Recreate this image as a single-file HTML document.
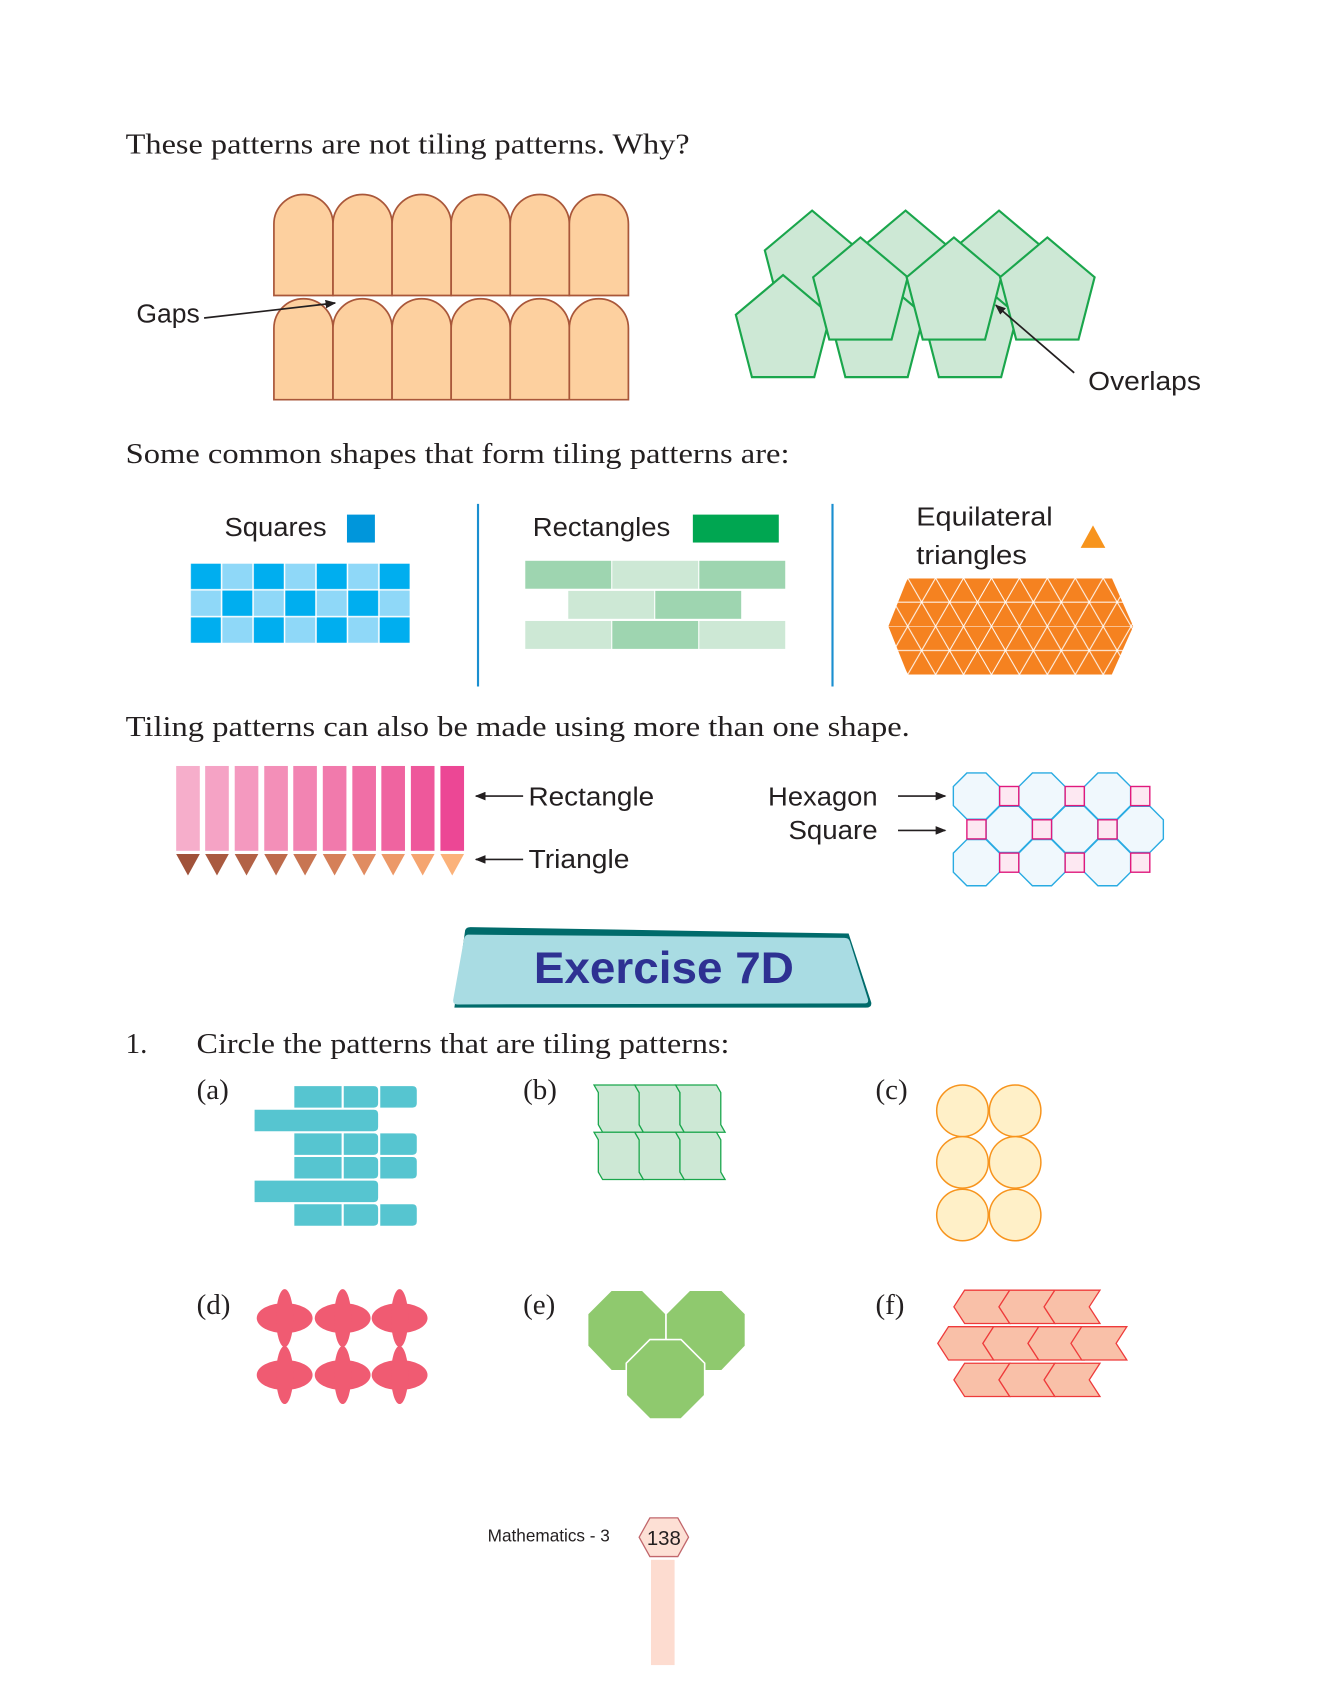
<!DOCTYPE html>
<html><head><meta charset="utf-8"><style>
html,body{margin:0;padding:0;background:#fff}
svg{display:block}
.sr{font-family:"Liberation Serif",serif;font-size:27px;fill:#231f20}
.ss{font-family:"Liberation Sans",sans-serif;font-size:24px;fill:#231f20}
</style></head><body>
<svg width="1332" height="1692" viewBox="0 0 1240 1575" xmlns="http://www.w3.org/2000/svg">
<defs>
<marker id="ah" markerWidth="10" markerHeight="8" refX="9" refY="4" orient="auto" markerUnits="userSpaceOnUse"><path d="M0,0 L10,4 L0,8 z" fill="#231f20"/></marker>
<path id="arch" d="M0,94 V27.5 A27.5,27.5 0 0 1 55,27.5 V94 Z" fill="#fdd09f" stroke="#a9573a" stroke-width="1.6"/>
<path id="pent" d="M0,0 L44,37 L29,95 L-29,95 L-44,37 Z" fill="#cde8d5" stroke="#1aa64c" stroke-width="2"/>
<pattern id="sq" x="177" y="524" width="58.58" height="50" patternUnits="userSpaceOnUse">
<rect width="58.58" height="50" fill="#fff"/>
<rect x="0.7" y="0.7" width="27.9" height="23.6" fill="#00aeef"/>
<rect x="30" y="0.7" width="27.9" height="23.6" fill="#8fd8f8"/>
<rect x="0.7" y="25.7" width="27.9" height="23.6" fill="#8fd8f8"/>
<rect x="30" y="25.7" width="27.9" height="23.6" fill="#00aeef"/>
</pattern>
<pattern id="tri" x="845" y="538" width="26" height="45" patternUnits="userSpaceOnUse">
<rect width="26" height="45" fill="#f58220"/>
<path d="M0,0 L26,45 M26,0 L0,45 M0,0 H26 M0,22.5 H26" stroke="#fff" stroke-width="0.9" fill="none"/>
</pattern>
<clipPath id="hexc"><path d="M845,538 H1035 L1055,583 L1035,628 H845 L827,583 Z"/></clipPath>
<path id="oct" d="M-8.9,-21.5 H8.9 L21.5,-8.9 V8.9 L8.9,21.5 H-8.9 L-21.5,8.9 V-8.9 Z" fill="#f0f8fd" stroke="#29abe2" stroke-width="1.3"/>
<rect id="sqr" x="-8.9" y="-8.9" width="17.8" height="17.8" fill="#fde8f2" stroke="#e0197d" stroke-width="1.3"/>
<g id="blk3">
<path d="M274,0 H318 V20 H274 Z" fill="#56c5d0"/>
<path d="M320,0 H348 Q352,0 352,4 V16 Q352,20 348,20 H320 Z" fill="#56c5d0"/>
<path d="M354,0 H384 Q388,0 388,4 V16 Q388,20 384,20 H354 Z" fill="#56c5d0"/>
</g>
<path id="blkL" d="M237,0 H348 Q352,0 352,4 V16 Q352,20 348,20 H237 Z" fill="#56c5d0"/>
<path id="btile" d="M0,0 L38,0 L42,7 L42,37 L46,44 L8,44 L4,37 L4,7 Z" fill="#cde8d5" stroke="#1aa64c" stroke-width="1.2"/>
<g id="flw" fill="#f05b72"><ellipse cx="0" cy="0" rx="26" ry="14"/><ellipse cx="0" cy="0" rx="8" ry="27"/></g>
<path id="chev" d="M0,0 H42 L32,15.5 L42,31 H0 L-10,15.5 Z" fill="#f9c0a8" stroke="#ee3b3b" stroke-width="1.2"/>
</defs>

<!-- Section 1 -->
<text x="117" y="143" class="sr" textLength="525" lengthAdjust="spacingAndGlyphs">These patterns are not tiling patterns. Why?</text>
<g>
<use href="#arch" x="255" y="181"/><use href="#arch" x="310" y="181"/><use href="#arch" x="365" y="181"/><use href="#arch" x="420" y="181"/><use href="#arch" x="475" y="181"/><use href="#arch" x="530" y="181"/>
<use href="#arch" x="255" y="278"/><use href="#arch" x="310" y="278"/><use href="#arch" x="365" y="278"/><use href="#arch" x="420" y="278"/><use href="#arch" x="475" y="278"/><use href="#arch" x="530" y="278"/>
</g>
<text x="127" y="300" class="ss" textLength="59" lengthAdjust="spacingAndGlyphs">Gaps</text>
<line x1="190" y1="296" x2="312" y2="282" stroke="#231f20" stroke-width="1.6" marker-end="url(#ah)"/>

<use href="#pent" x="756" y="196"/><use href="#pent" x="843" y="196"/><use href="#pent" x="930" y="196"/>
<use href="#pent" x="816" y="256"/><use href="#pent" x="903" y="256"/><use href="#pent" x="729" y="256"/>
<use href="#pent" x="801" y="221"/><use href="#pent" x="888" y="221"/><use href="#pent" x="975" y="221"/>
<line x1="1000" y1="347" x2="927" y2="284" stroke="#231f20" stroke-width="1.6" marker-end="url(#ah)"/>
<text x="1013" y="363" class="ss" textLength="105" lengthAdjust="spacingAndGlyphs">Overlaps</text>

<!-- Section 2 -->
<text x="117" y="431" class="sr" textLength="618" lengthAdjust="spacingAndGlyphs">Some common shapes that form tiling patterns are:</text>
<text x="209" y="499" class="ss" textLength="95" lengthAdjust="spacingAndGlyphs">Squares</text>
<rect x="323" y="479" width="26" height="26" fill="#0096db"/>
<rect x="177" y="524" width="205" height="75" fill="url(#sq)"/>
<line x1="445" y1="469" x2="445" y2="639" stroke="#1a8fd0" stroke-width="2"/>
<line x1="775" y1="469" x2="775" y2="639" stroke="#1a8fd0" stroke-width="2"/>
<text x="496" y="499" class="ss" textLength="128" lengthAdjust="spacingAndGlyphs">Rectangles</text>
<rect x="645" y="479" width="80" height="26" fill="#00a651"/>
<rect x="489" y="522" width="80" height="26" fill="#9ed5b0"/><rect x="570" y="522" width="80" height="26" fill="#cde8d5"/><rect x="651" y="522" width="80" height="26" fill="#9ed5b0"/>
<rect x="529" y="550" width="80" height="26" fill="#cde8d5"/><rect x="610" y="550" width="80" height="26" fill="#9ed5b0"/>
<rect x="489" y="578" width="80" height="26" fill="#cde8d5"/><rect x="570" y="578" width="80" height="26" fill="#9ed5b0"/><rect x="651" y="578" width="80" height="26" fill="#cde8d5"/>
<text x="853" y="489" class="ss" textLength="127" lengthAdjust="spacingAndGlyphs">Equilateral</text>
<text x="853" y="525" class="ss" textLength="103" lengthAdjust="spacingAndGlyphs">triangles</text>
<path d="M1017.5,489 L1029,510 L1006,510 Z" fill="#f7941d"/>
<rect x="820" y="530" width="240" height="105" fill="url(#tri)" clip-path="url(#hexc)"/>

<!-- Section 3 -->
<text x="117" y="685" class="sr" textLength="730" lengthAdjust="spacingAndGlyphs">Tiling patterns can also be made using more than one shape.</text>
<g>
<rect x="164" y="713" width="22" height="79" fill="#f6aecb"/><path d="M164,795 H186 L175,815 Z" fill="#a0523a"/>
<rect x="191" y="713" width="22" height="79" fill="#f5a3c5"/><path d="M191,795 H213 L202,815 Z" fill="#a95a40"/>
<rect x="218.5" y="713" width="22" height="79" fill="#f499bf"/><path d="M218.5,795 H240.5 L229.5,815 Z" fill="#b26246"/>
<rect x="246" y="713" width="22" height="79" fill="#f38fb8"/><path d="M246,795 H268 L257,815 Z" fill="#bd6b4c"/>
<rect x="273" y="713" width="22" height="79" fill="#f284b2"/><path d="M273,795 H295 L284,815 Z" fill="#c87552"/>
<rect x="300.5" y="713" width="22" height="79" fill="#f17aac"/><path d="M300.5,795 H322.5 L311.5,815 Z" fill="#d58059"/>
<rect x="328" y="713" width="22" height="79" fill="#f06fa6"/><path d="M328,795 H350 L339,815 Z" fill="#e08c61"/>
<rect x="355" y="713" width="22" height="79" fill="#ef64a0"/><path d="M355,795 H377 L366,815 Z" fill="#ec9968"/>
<rect x="382.5" y="713" width="22" height="79" fill="#ee589b"/><path d="M382.5,795 H404.5 L393.5,815 Z" fill="#f5a570"/>
<rect x="410" y="713" width="22" height="79" fill="#ec4795"/><path d="M410,795 H432 L421,815 Z" fill="#fbb27a"/>
</g>
<line x1="487" y1="741" x2="443" y2="741" stroke="#231f20" stroke-width="1.6" marker-end="url(#ah)"/>
<text x="492" y="750" class="ss" textLength="117" lengthAdjust="spacingAndGlyphs">Rectangle</text>
<line x1="487" y1="800" x2="443" y2="800" stroke="#231f20" stroke-width="1.6" marker-end="url(#ah)"/>
<text x="492" y="808" class="ss" textLength="94" lengthAdjust="spacingAndGlyphs">Triangle</text>
<text x="715" y="750" class="ss" textLength="102" lengthAdjust="spacingAndGlyphs">Hexagon</text>
<text x="734" y="781" class="ss" textLength="83" lengthAdjust="spacingAndGlyphs">Square</text>
<line x1="836" y1="741" x2="880" y2="741" stroke="#231f20" stroke-width="1.6" marker-end="url(#ah)"/>
<line x1="836" y1="773" x2="880" y2="773" stroke="#231f20" stroke-width="1.6" marker-end="url(#ah)"/>
<g>
<use href="#oct" x="909" y="741"/><use href="#oct" x="970" y="741"/><use href="#oct" x="1031" y="741"/>
<use href="#oct" x="939.5" y="772"/><use href="#oct" x="1000.5" y="772"/><use href="#oct" x="1061.5" y="772"/>
<use href="#oct" x="909" y="803"/><use href="#oct" x="970" y="803"/><use href="#oct" x="1031" y="803"/>
<use href="#sqr" x="939.5" y="741"/><use href="#sqr" x="1000.5" y="741"/><use href="#sqr" x="1061.5" y="741"/>
<use href="#sqr" x="909" y="772"/><use href="#sqr" x="970" y="772"/><use href="#sqr" x="1031" y="772"/>
<use href="#sqr" x="939.5" y="803"/><use href="#sqr" x="1000.5" y="803"/><use href="#sqr" x="1061.5" y="803"/>
</g>

<!-- Exercise banner -->
<path d="M433,866 Q434,863 438,863 L790,869 L811,933 Q812,938 806,938 L423,938 Z" fill="#006b6b"/>
<path d="M436,870 L786,873 Q790,873 791,876 L808,930 Q809,934 805,934 L426,935 Q421,935 422,930 L432,874 Q433,870 436,870 Z" fill="#a9dce3"/>
<text x="618" y="915" text-anchor="middle" font-family="'Liberation Sans',sans-serif" font-weight="bold" font-size="41" fill="#2e3192" textLength="242" lengthAdjust="spacingAndGlyphs">Exercise 7D</text>

<!-- Question -->
<text x="117" y="980" class="sr">1.</text>
<text x="183" y="980" class="sr" textLength="496" lengthAdjust="spacingAndGlyphs">Circle the patterns that are tiling patterns:</text>
<text x="183" y="1023" class="sr">(a)</text>
<text x="487" y="1023" class="sr">(b)</text>
<text x="815" y="1023" class="sr">(c)</text>
<text x="183" y="1223" class="sr">(d)</text>
<text x="487" y="1223" class="sr">(e)</text>
<text x="815" y="1223" class="sr">(f)</text>

<!-- (a) -->
<use href="#blk3" y="1011"/>
<use href="#blkL" y="1033"/>
<use href="#blk3" y="1055"/>
<use href="#blk3" y="1077"/>
<use href="#blkL" y="1099"/>
<use href="#blk3" y="1121"/>

<!-- (b) -->
<use href="#btile" x="553" y="1010"/><use href="#btile" x="591" y="1010"/><use href="#btile" x="629" y="1010"/>
<use href="#btile" x="553" y="1054"/><use href="#btile" x="591" y="1054"/><use href="#btile" x="629" y="1054"/>

<!-- (c) -->
<g fill="#fff0c8" stroke="#f7941d" stroke-width="1.4">
<ellipse cx="896" cy="1034" rx="24" ry="24"/><ellipse cx="945" cy="1034" rx="24" ry="24"/>
<ellipse cx="896" cy="1082" rx="24" ry="24"/><ellipse cx="945" cy="1082" rx="24" ry="24"/>
<ellipse cx="896" cy="1131" rx="24" ry="24"/><ellipse cx="945" cy="1131" rx="24" ry="24"/>
</g>

<!-- (d) -->
<use href="#flw" x="265" y="1227"/><use href="#flw" x="319" y="1227"/><use href="#flw" x="372" y="1227"/>
<use href="#flw" x="265" y="1280"/><use href="#flw" x="319" y="1280"/><use href="#flw" x="372" y="1280"/>

<!-- (e) -->
<g fill="#8fc96e" stroke="#fff" stroke-width="1.5">
<path d="M569,1201 H598 L620,1223 V1253 L598,1276 H569 L547,1253 V1223 Z"/>
<path d="M642,1201 H672 L694,1223 V1253 L672,1276 H642 L620,1253 V1223 Z"/>
<path d="M605,1247 H634 L656,1269 V1299 L634,1321 H605 L583,1299 V1269 Z"/>
</g>

<!-- (f) -->
<use href="#chev" x="898" y="1201"/><use href="#chev" x="940" y="1201"/><use href="#chev" x="982" y="1201"/>
<use href="#chev" x="883" y="1235"/><use href="#chev" x="925" y="1235"/><use href="#chev" x="967" y="1235"/><use href="#chev" x="1007" y="1235"/>
<use href="#chev" x="898" y="1269"/><use href="#chev" x="940" y="1269"/><use href="#chev" x="982" y="1269"/>

<!-- Footer -->
<text x="454" y="1435" font-family="'Liberation Sans',sans-serif" font-size="16" fill="#231f20">Mathematics - 3</text>
<rect x="606" y="1452" width="22" height="98" fill="#fddcd0"/>
<path d="M605,1413 H631 L641,1431 L631,1449 H605 L595,1431 Z" fill="#fde0d5" stroke="#c1666b" stroke-width="1.2"/>
<text x="618" y="1438" text-anchor="middle" font-family="'Liberation Sans',sans-serif" font-size="19" fill="#231f20">138</text>
</svg>
</body></html>
